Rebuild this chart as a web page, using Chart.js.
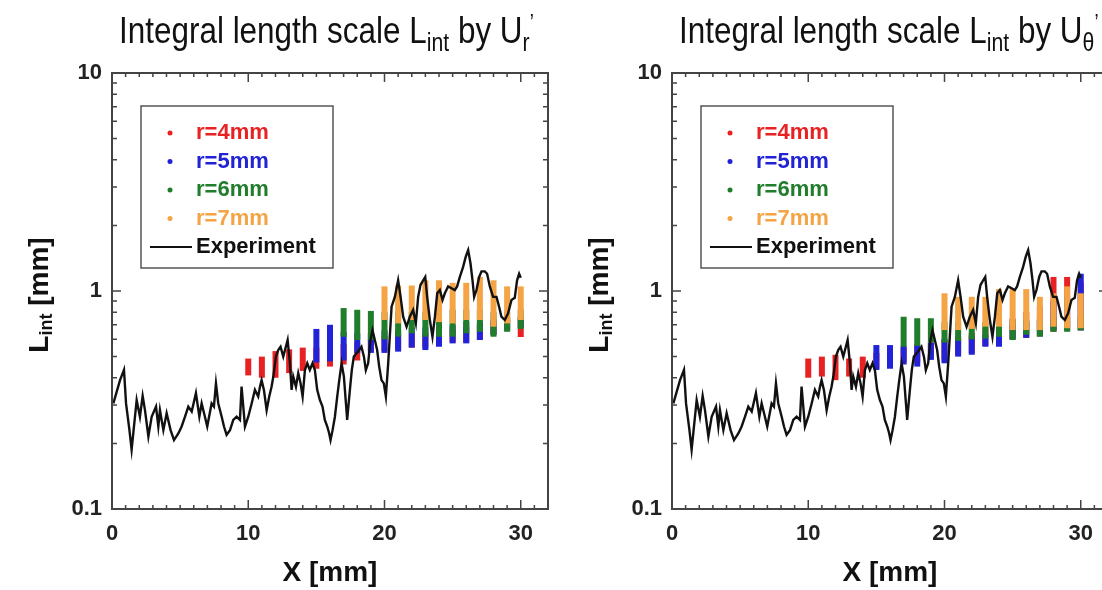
<!DOCTYPE html>
<html>
<head>
<meta charset="utf-8">
<script src="https://cdn.jsdelivr.net/npm/chart.js@4"></script>
<style>
  html, body { margin: 0; padding: 0; background: #fff; overflow: hidden; width: 1102px; height: 590px; }
  .panel { position: absolute; top: 0; width: 560px; height: 590px; }
</style>
</head>
<body>
<div class="panel" style="left:0"><canvas id="chartUr" width="560" height="590"></canvas></div>
<div class="panel" style="left:560px"><canvas id="chartUth" width="560" height="590"></canvas></div>
<script>
// experiment curve (same in both panels)
const EXP_X = [0.1,0.59,0.88,1.03,1.28,1.44,1.81,2.05,2.25,2.42,2.67,2.91,3.23,3.4,3.52,3.77,4.01,4.3,4.55,4.87,
  5.11,5.36,5.6,5.85,6.16,6.41,6.58,6.82,6.99,7.31,7.48,7.63,7.8,8.05,8.22,8.41,8.66,8.9,9.15,9.39,
  9.51,9.76,10.0,10.25,10.49,10.73,10.86,10.98,11.15,11.35,11.54,11.71,11.84,12.03,12.2,12.37,12.57,12.76,12.89,13.06,
  13.18,13.3,13.5,13.67,13.84,13.99,14.16,14.33,14.52,14.72,14.89,15.06,15.26,15.45,15.62,15.8,15.94,16.04,16.19,16.36,
  16.53,16.68,16.85,17.02,17.17,17.26,17.46,17.6,17.75,17.95,18.14,18.31,18.49,18.63,18.8,18.97,19.12,19.29,19.46,19.61,
  19.78,19.95,20.1,
  20.27,20.52,20.76,21.0,21.18,21.37,21.62,21.86,22.1,22.3,22.47,22.64,22.84,22.99,23.13,23.33,23.52,23.7,23.87,24.06,
  24.26,24.43,24.67,24.92,25.16,25.33,25.53,25.77,25.97,26.14,26.31,26.46,26.58,26.75,26.95,27.12,27.36,27.53,27.73,27.97,
  28.22,28.41,28.58,28.83,29.07,29.32,29.56,29.73,29.88,30.0];
const EXP_L = [0.305,0.39,0.435,0.305,0.23,0.187,0.316,0.265,0.33,0.284,0.215,0.265,0.295,0.239,0.284,0.23,0.275,0.23,0.207,0.222,
  0.239,0.265,0.295,0.28,0.34,0.265,0.305,0.265,0.239,0.305,0.295,0.377,0.305,0.265,0.239,0.219,0.23,0.256,0.265,0.256,
  0.364,0.239,0.265,0.305,0.352,0.328,0.364,0.39,0.352,0.284,0.328,0.364,0.405,0.5,0.536,0.555,0.5,0.555,0.596,0.466,
  0.352,0.405,0.364,0.42,0.377,0.328,0.434,0.466,0.434,0.466,0.434,0.352,0.316,0.295,0.256,0.239,0.222,0.207,0.23,0.265,
  0.328,0.39,0.466,0.405,0.305,0.256,0.352,0.434,0.5,0.518,0.536,0.555,0.5,0.434,0.466,0.596,0.662,0.596,0.536,0.45,
  0.39,0.377,0.328,
  0.466,0.847,0.94,1.12,0.94,0.762,0.686,0.762,0.818,0.711,0.94,1.065,1.12,1.16,0.94,0.736,0.617,0.762,0.976,1.01,
  0.91,0.976,1.05,1.03,1.01,1.05,1.16,1.29,1.44,1.54,1.34,1.12,0.94,1.01,1.16,1.23,1.23,1.2,1.05,0.94,
  0.94,0.847,0.762,0.736,0.79,0.91,0.93,1.12,1.2,1.15];

// x positions of the simulated columns
const X_R4 = [10,11,12,13,14,15,16,17,18,19,20,21,22,23,24,25,26,27,28,29,30];
const X_R5 = [15,16,17,18,19,20,21,22,23,24,25,26,27,28,29,30];
const X_R6 = [17,18,19,20,21,22,23,24,25,26,27,28,29,30];
const X_R7 = [20,21,22,23,24,25,26,27,28,29,30];

// [low, high] of each column, by U_r'
const UR_R4 = [[0.41,0.49],[0.40,0.50],[0.40,0.53],[0.42,0.54],[0.43,0.55],[0.44,0.55],[0.45,0.56],[0.46,0.57],[0.48,0.58],[0.53,0.60],
  [0.53,0.62],[0.54,0.63],[0.55,0.64],[0.55,0.64],[0.57,0.66],[0.58,0.67],[0.58,0.68],[0.60,0.70],[0.63,0.72],[0.66,0.74],[0.615,0.75]];
const UR_R5 = [[0.47,0.67],[0.475,0.70],[0.48,0.65],[0.52,0.64],[0.52,0.64],[0.52,0.66],[0.527,0.66],[0.55,0.68],[0.536,0.68],[0.555,0.70],
  [0.575,0.70],[0.575,0.72],[0.596,0.72],[0.63,0.74],[0.66,0.76],[0.68,0.76]];
const UR_R6 = [[0.617,0.835],[0.596,0.82],[0.596,0.81],[0.60,0.80],[0.617,0.80],[0.64,0.80],[0.617,0.80],[0.617,0.82],[0.617,0.82],[0.64,0.82],
  [0.65,0.82],[0.617,0.80],[0.65,0.80],[0.67,0.82]];
const UR_R7 = [[0.736,1.05],[0.71,1.06],[0.736,1.06],[0.736,1.12],[0.72,1.12],[0.71,1.09],[0.736,1.09],[0.736,1.16],[0.686,1.12],[0.71,1.05],[0.736,1.05]];

// [low, high] of each column, by U_theta'
const UT_R4 = [[0.40,0.49],[0.405,0.50],[0.39,0.51],[0.405,0.49],[0.40,0.50],[0.44,0.52],[0.45,0.53],[0.47,0.55],[0.47,0.56],[0.49,0.58],
  [0.48,0.60],[0.51,0.62],[0.52,0.64],[0.56,0.68],[0.56,0.70],[0.60,0.75],[0.61,0.80],[0.62,0.85],[0.65,1.16],[0.66,1.16],[0.66,1.10]];
const UT_R5 = [[0.434,0.565],[0.44,0.565],[0.46,0.56],[0.45,0.57],[0.483,0.58],[0.466,0.60],[0.50,0.60],[0.51,0.62],[0.555,0.63],[0.555,0.65],
  [0.60,0.70],[0.61,0.72],[0.62,0.74],[0.66,0.90],[0.66,0.95],[0.66,1.2]];
const UT_R6 = [[0.555,0.762],[0.56,0.75],[0.58,0.75],[0.58,0.72],[0.59,0.72],[0.60,0.72],[0.605,0.72],[0.617,0.74],[0.596,0.74],[0.63,0.74],
  [0.617,0.74],[0.65,0.76],[0.65,0.76],[0.66,0.76]];
const UT_R7 = [[0.662,0.976],[0.662,0.94],[0.67,0.94],[0.686,0.94],[0.686,1.02],[0.662,1.02],[0.662,1.02],[0.662,0.94],[0.686,0.976],[0.675,1.05],[0.675,0.976]];

const SERIES = ['r=4mm', 'r=5mm', 'r=6mm', 'r=7mm'];
const COLORS = ['#e82222', '#2222d6', '#1f7d2c', '#f4a445'];
const X_LABELS = [0, 10, 20, 30];
const Y_TICKS = [0.1,0.2,0.3,0.4,0.5,0.6,0.7,0.8,0.9,1,2,3,4,5,6,7,8,9,10];
const Y_LABELS = [0.1, 1, 10];

const FONT = '"Liberation Sans", Arial, Helvetica, sans-serif';

function bars(xs, ranges) {
  return xs.map((x, i) => ({ x: x, y: ranges[i] }));
}

// draws runs of text with sub/superscripts, returns width
function richText(ctx, parts, x, y, measureOnly) {
  let w = 0;
  parts.forEach(p => {
    ctx.font = p.font;
    if (!measureOnly) ctx.fillText(p.t, x + w, y + (p.dy || 0));
    w += ctx.measureText(p.t).width;
  });
  return w;
}

function framePlugin(sub) {
  return {
    id: 'frame',
    afterDraw(chart) {
      const { ctx, chartArea: a, scales: { x, y } } = chart;
      ctx.save();

      // inward ticks
      ctx.strokeStyle = '#444';
      ctx.lineWidth = 1.5;
      ctx.beginPath();
      y.ticks.forEach(t => {
        const p = y.getPixelForValue(t.value);
        const len = Y_LABELS.includes(t.value) ? 9 : 5;
        ctx.moveTo(a.left, p); ctx.lineTo(a.left + len, p);
        ctx.moveTo(a.right, p); ctx.lineTo(a.right - len, p);
      });
      x.ticks.forEach(t => {
        const p = x.getPixelForValue(t.value);
        const len = X_LABELS.includes(t.value) ? 9 : 4;
        ctx.moveTo(p, a.bottom); ctx.lineTo(p, a.bottom - len);
        ctx.moveTo(p, a.top); ctx.lineTo(p, a.top + len);
      });
      ctx.stroke();

      // frame
      ctx.lineWidth = 2;
      ctx.strokeRect(a.left, a.top, a.right - a.left, a.bottom - a.top);

      // legend box
      const lx = 141, ly = 106, lw = 192, lh = 162;
      ctx.fillStyle = '#fff';
      ctx.fillRect(lx, ly, lw, lh);
      ctx.strokeStyle = '#555';
      ctx.lineWidth = 1.5;
      ctx.strokeRect(lx, ly, lw, lh);
      ctx.textBaseline = 'middle';
      ctx.textAlign = 'left';
      ctx.font = 'bold 22px ' + FONT;
      chart.data.datasets.forEach((ds, i) => {
        const ry = 133 + i * 28.5;
        if (ds.type === 'line') {
          ctx.strokeStyle = ds.borderColor;
          ctx.lineWidth = 2;
          ctx.beginPath(); ctx.moveTo(150, ry); ctx.lineTo(192, ry); ctx.stroke();
          ctx.fillStyle = '#111';
        } else {
          ctx.fillStyle = ds.backgroundColor;
          ctx.beginPath(); ctx.arc(170, ry, 2.5, 0, Math.PI * 2); ctx.fill();
        }
        ctx.fillText(ds.label, 196, ry);
      });

      // y axis title with subscript
      ctx.fillStyle = '#111';
      const yParts = [
        { t: 'L', font: 'bold 28px ' + FONT },
        { t: 'int', font: 'bold 18px ' + FONT, dy: 7 },
        { t: ' [mm]', font: 'bold 28px ' + FONT }
      ];
      ctx.save();
      ctx.translate(40, 295);
      ctx.rotate(-Math.PI / 2);
      const yw = richText(ctx, yParts, 0, 0, true);
      richText(ctx, yParts, -yw / 2, 0);
      ctx.restore();

      // chart title, condensed
      ctx.textBaseline = 'alphabetic';
      const tParts = [
        { t: 'Integral length scale L', font: '37px ' + FONT },
        { t: 'int', font: '25px ' + FONT, dy: 8 },
        { t: ' by U', font: '37px ' + FONT },
        { t: sub, font: '25px ' + FONT, dy: 8 },
        { t: '\u2019', font: '22px ' + FONT, dy: -14 }
      ];
      ctx.save();
      ctx.translate(119, 43);
      ctx.scale(0.85, 1);
      richText(ctx, tParts, 0, 0);
      ctx.restore();

      ctx.restore();
    }
  };
}

function makeChart(id, sub, ranges) {
  const xs = [X_R4, X_R5, X_R6, X_R7];
  const datasets = SERIES.map((name, i) => ({
    type: 'bar',
    label: name,
    data: bars(xs[i], ranges[i]),
    backgroundColor: COLORS[i],
    borderWidth: 0,
    borderSkipped: false,
    grouped: false,
    maxBarThickness: 6,
    order: 4 - i
  }));
  datasets.push({
    type: 'line',
    label: 'Experiment',
    data: EXP_X.map((x, i) => ({ x: x, y: EXP_L[i] })),
    borderColor: '#111',
    borderWidth: 2.4,
    pointRadius: 0,
    tension: 0,
    order: 0
  });

  return new Chart(document.getElementById(id), {
    type: 'bar',
    data: { datasets },
    options: {
      responsive: false,
      animation: false,
      devicePixelRatio: 1,
      layout: { padding: { left: 0, right: 12, top: 73, bottom: 0 } },
      plugins: { legend: { display: false }, tooltip: { enabled: false } },
      scales: {
        x: {
          type: 'linear', min: 0, max: 32, offset: false,
          grid: { display: false, drawTicks: false }, border: { display: false },
          ticks: {
            stepSize: 1, autoSkip: false, maxRotation: 0, padding: 12, color: '#222',
            font: { family: FONT, size: 22, weight: 'bold' },
            callback: v => X_LABELS.includes(v) ? String(v) : ''
          },
          title: { display: true, text: 'X [mm]', color: '#111', padding: { top: 0, bottom: 0 },
                   font: { family: FONT, size: 28, weight: 'bold' } },
          afterFit: s => { s.height = 81; }
        },
        y: {
          type: 'logarithmic', min: 0.1, max: 10,
          grid: { display: false, drawTicks: false }, border: { display: false },
          afterBuildTicks: s => { s.ticks = Y_TICKS.map(v => ({ value: v })); },
          ticks: {
            autoSkip: false, padding: 10, color: '#222',
            font: { family: FONT, size: 22, weight: 'bold' },
            callback: v => Y_LABELS.includes(v) ? String(v) : ''
          },
          afterFit: s => { s.width = 112; }
        }
      }
    },
    plugins: [framePlugin(sub)]
  });
}

makeChart('chartUr', 'r', [UR_R4, UR_R5, UR_R6, UR_R7]);
makeChart('chartUth', '\u03b8', [UT_R4, UT_R5, UT_R6, UT_R7]);
</script>
</body>
</html>
